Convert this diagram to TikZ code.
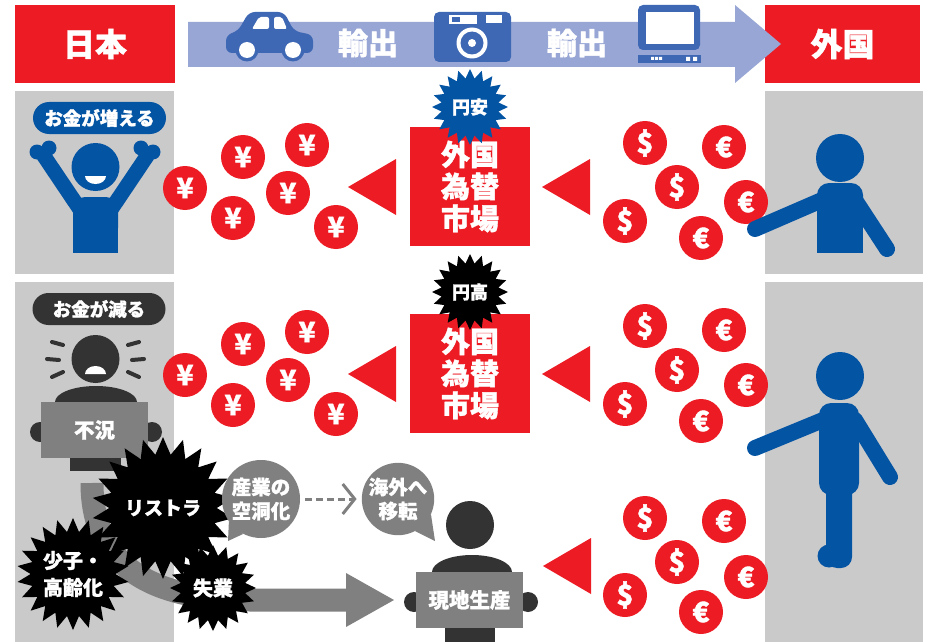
\documentclass[tikz,border=0pt]{standalone}
\usepackage{fontspec}
\setmainfont{Noto Sans CJK JP}[BoldFeatures={FakeBold=1.3}]
\usetikzlibrary{shapes.geometric,arrows.meta}
\definecolor{jred}{HTML}{ED1C24}
\definecolor{jblue}{HTML}{0454A4}
\definecolor{iconblue}{HTML}{3F68B4}
\definecolor{band}{HTML}{98A6D5}
\definecolor{panel}{HTML}{CACACA}
\definecolor{dark}{HTML}{333333}
\definecolor{midgray}{HTML}{808080}
\tikzset{
  fs/.style={font=\fontsize{#1}{#1}\selectfont\bfseries},
  hbox/.style={fill=jred, text=white, minimum height=78pt, inner sep=0pt, fs=32},
  coin/.style={circle, fill=jred, text=white, minimum size=44pt, inner sep=0pt, fs=28},
  pill/.style={rounded corners=16pt, text=white, minimum width=133pt, minimum height=32pt, inner sep=0pt, fs=18.5},
  fxbox/.style={fill=jred, text=white, minimum width=120pt, minimum height=119pt, inner sep=0pt, align=center, font=\fontsize{29}{32}\selectfont\bfseries},
  burst/.style={star, star points=#1, star point ratio=1.32, fill=black, text=white, inner sep=0pt, align=center, font=\fontsize{19}{25}\selectfont\bfseries},
  bubble/.style={circle, fill=midgray, text=white, minimum size=#1, inner sep=0pt, align=center, font=\fontsize{19.5}{24}\selectfont\bfseries},
  sign/.style={fill=midgray, text=white, inner sep=0pt, fs=20.5},
  limb/.style={line width=16pt, line cap=round},
  lefttri/.style={fill=jred},
}
\begin{document}
\begin{tikzpicture}[x=1pt,y=-1pt]
\useasboundingbox (0,0) rectangle (930,642);
\fill[white] (0,0) rectangle (930,642);

% grey panels behind the people
\fill[panel] (15,91) rectangle (174,274);
\fill[panel] (15,282) rectangle (174,642);
\fill[panel] (765,91) rectangle (923,274);
\fill[panel] (765,282) rectangle (923,642);

% ---------- header ----------
\node[hbox, minimum width=160pt] (japan) at (95,44) {日本};
\node[hbox, minimum width=155pt] (abroad) at (842.5,44) {外国};
\fill[band] (188,22) -- (735,22) -- (735,5) -- (781,44) -- (735,83) -- (735,67) -- (188,67) -- cycle;
\node[fs=30, text=white] (exportA) at (368,43) {輸出};
\node[fs=30, text=white] (exportB) at (577,43) {輸出};

% car
\fill[iconblue, rounded corners=6pt] (226,53) -- (226,35) -- (238,31) -- (249,12) -- (284,12) -- (294,31) -- (313,35) -- (313,53) -- cycle;
\fill[white, rounded corners=2pt] (252,29) -- (259,17) -- (269,17) -- (269,29) -- cycle;
\fill[white, rounded corners=2pt] (274,17) -- (282,17) -- (287,29) -- (274,29) -- cycle;
\fill[iconblue] (247,50) circle (11.5) (293,50) circle (11.5);
\fill[white] (247,50) circle (8) (293,50) circle (8);

% camera
\fill[iconblue, rounded corners=5pt] (434,12) rectangle (511,62);
\fill[white] (449,15) rectangle (477,24);
\fill[iconblue] (452,17) rectangle (460,22);
\fill[white] (486,15) rectangle (502,23);
\fill[white] (472,43) circle (15.5);
\fill[iconblue] (472,43) circle (11.5);
\fill[white] (472,43) circle (4);

% monitor
\fill[iconblue, rounded corners=5pt] (638,5) rectangle (700,50);
\fill[white] (646,12) rectangle (694,44);
\fill[iconblue] (638,55) rectangle (701,63);
\fill[white] (651,57) rectangle (654,60) (655,57) rectangle (658,60) (659,57) rectangle (662,60);
\fill[white] (686,57) rectangle (690,61) (693,57) rectangle (697,61);

% ---------- upper row: yen weakens ----------
\node[pill, fill=jblue] (gain) at (99.5,118) {お金が増える};
% cheering person
\draw[jblue, limb, line width=15pt] (44,156) -- (83,214);
\draw[jblue, limb, line width=15pt] (147,156) -- (108,214);
\fill[jblue] (37,152) circle (7.5) (49,148) circle (7.5);
\fill[jblue] (153,152) circle (7.5) (141,148) circle (7.5);
\fill[jblue, rounded corners=12pt] (73,197) rectangle (118,240);
\fill[jblue] (73,220) rectangle (118,253);
\fill[jblue] (95.5,167) circle (24);
\fill[white] (85,176) arc (180:0:10.5 and 8) -- cycle;

% yen coins
\foreach \px/\py [count=\i] in {185/188, 243/157, 307/145, 288/193, 233/218, 336/227}
  \node[coin] (yenA\i) at (\px,\py) {¥};
\fill[lefttri] (348,187) -- (396,159) -- (396,215) -- cycle;
\fill[lefttri] (542,187) -- (590,159) -- (590,215) -- cycle;
\node[fxbox] (fxA) at (470,186.5) {外国\\為替\\市場};
\node[burst=20, fill=jblue, minimum size=76pt, font=\fontsize{18}{18}\selectfont\bfseries] (weak) at (470,107) {円安};

% dollar / euro coins
\foreach \px/\py/\s [count=\i] in {645/143/\$, 724/147/€, 677/187/\$, 746/202/€, 625/221/\$, 701/238/€}
  \node[coin] (fxcoinA\i) at (\px,\py) {\s};

% pointing person
\draw[jblue, limb] (822,200) -- (755,229);
\draw[jblue, limb] (855,200) -- (887,249);
\fill[jblue, rounded corners=12pt] (817,183) rectangle (863,235);
\fill[jblue] (817,215) rectangle (863,253);
\fill[jblue] (840,158) circle (24);

% ---------- lower row: yen strengthens ----------
\node[pill, fill=dark] (loss) at (99,309) {お金が減る};
% worried person with sign
\fill[dark] (95.5,359) circle (24);
\fill[white] (85,374) arc (180:360:10.5 and 8) -- cycle;
\foreach \ax/\ay/\bx/\by in {52/342/63/345, 47/359/59/360, 52/377/63/372,
                              139/342/128/345, 144/359/132/360, 139/377/128/372}
  \draw[dark, line width=4pt, line cap=round] (\ax,\ay) -- (\bx,\by);
\fill[dark] (55,412) -- (55,402) arc (180:360:41 and 16) -- (137,412) -- cycle;
\fill[dark] (40,432) circle (10) (152,432) circle (10);
\node[sign, minimum width=107pt, minimum height=56pt] (slump) at (94.5,430) {不況};
\fill[dark] (70,458) rectangle (121,471);

\foreach \px/\py [count=\i] in {185/375, 243/344, 307/332, 288/380, 233/405, 336/414}
  \node[coin] (yenB\i) at (\px,\py) {¥};
\fill[lefttri] (348,374) -- (396,346) -- (396,402) -- cycle;
\fill[lefttri] (542,374) -- (590,346) -- (590,402) -- cycle;
\node[fxbox] (fxB) at (470,373.5) {外国\\為替\\市場};
\node[burst=20, minimum size=76pt, font=\fontsize{18}{18}\selectfont\bfseries] (strong) at (470,292) {円高};

\foreach \px/\py/\s [count=\i] in {645/326/\$, 724/330/€, 677/370/\$, 746/385/€, 625/404/\$, 701/421/€}
  \node[coin] (fxcoinB\i) at (\px,\py) {\s};
\foreach \px/\py/\s [count=\i] in {645/518/\$, 724/521/€, 677/562/\$, 746/577/€, 625/595/\$, 701/612/€}
  \node[coin] (fxcoinC\i) at (\px,\py) {\s};
\fill[lefttri] (543,566) -- (591,538) -- (591,594) -- cycle;

% standing person
\draw[jblue, limb] (823,420) -- (755,448);
\draw[jblue, limb] (855,420) -- (890,477);
\fill[jblue, rounded corners=12pt] (819,403) rectangle (859,495);
\fill[jblue, rounded corners=11pt] (826,470) rectangle (852,568);
\fill[jblue] (829,556) circle (11.5);
\fill[jblue] (840,376) circle (24);

% ---------- consequences ----------
\coordinate (flowstart) at (92,483);
\coordinate (flowend) at (347,600);
\draw[midgray, line width=23pt] (flowstart) .. controls (92,565) and (150,600) .. (250,600) -- (flowend);
\fill[midgray] (346,573) -- (394,600) -- (346,627) -- cycle;

\node[burst=22, minimum size=100pt] (restructure) at (163,508) {リストラ};
\node[burst=22, minimum size=112pt, font=\fontsize{20}{27}\selectfont\bfseries] (aging) at (73,574) {少子・\\高齢化};
\node[burst=20, minimum size=86pt, font=\fontsize{20}{20}\selectfont\bfseries] (jobless) at (213,588) {失業};

% speech bubbles
\node[bubble=78pt] (hollow) at (261,499) {産業の\\空洞化};
\fill[midgray] (hollow.215) -- (228,541) -- (hollow.243) -- cycle;
\node[bubble=72pt] (relocate) at (398,499) {海外へ\\移転};
\fill[midgray] (relocate.-25) -- (435,541) -- (relocate.-62) -- cycle;
\draw[midgray, line width=3pt, dash pattern=on 7pt off 4pt, shorten <=5pt, shorten >=5pt,
      -{Straight Barb[length=12pt, width=30pt, line width=3pt]}] (hollow.east) -- (relocate.west);

% person producing abroad
\fill[dark] (470,525) circle (24);
\fill[dark] (432,580) -- (432,572) arc (180:360:40 and 17) -- (512,580) -- cycle;
\fill[dark] (414,602) circle (10) (528,602) circle (10);
\node[sign, minimum width=107pt, minimum height=56pt] (local) at (469.5,600) {現地生産};
\fill[dark] (445,628) rectangle (495,642);
\end{tikzpicture}
\end{document}
